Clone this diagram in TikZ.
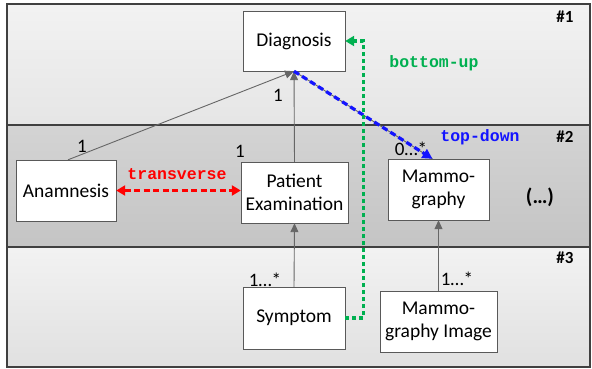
\documentclass[tikz,border=0pt]{standalone}
\usepackage{fontspec}
\setmainfont{Carlito}
\newfontfamily\monofont{Liberation Mono}
\usetikzlibrary{arrows.meta}
\definecolor{ggreen}{RGB}{0,176,80}
\definecolor{bblue}{RGB}{20,20,255}
\definecolor{rred}{RGB}{255,0,0}
\begin{document}
\begin{tikzpicture}[x=1pt,y=-1pt,
  box/.style={draw=black!65, fill=white, align=center, inner sep=0pt,
    font=\fontsize{19.5}{23}\selectfont},
  mult/.style={font=\fontsize{19}{20}\selectfont, inner sep=0pt},
  assoc/.style={draw=black!60, line width=0.9pt, -{Triangle[length=9pt,width=8pt]}},
  plain/.style={draw=black!60, line width=0.9pt},
  lvl/.style={font=\bfseries\fontsize{17}{18}\selectfont, inner sep=0pt},
  dir/.style={font=\monofont\bfseries\fontsize{16.5}{18}\selectfont, inner sep=0pt}]
\useasboundingbox (0,0) rectangle (592,368);
% bands
\shade[top color=black!5, bottom color=black!10] (7,4) rectangle (590,125);
\shade[top color=black!17, bottom color=black!23] (7,125) rectangle (590,247);
\shade[top color=black!5, bottom color=black!12] (7,247) rectangle (590,367);
\draw[black!75, line width=1.1pt] (7,4) rectangle (590,367);
\draw[black!75, line width=1.1pt] (7,125) -- (590,125);
\draw[black!75, line width=1.1pt] (7,247) -- (590,247);
\node[lvl] (l1) at (565,17) {\#1};
\node[lvl] (l2) at (565,137) {\#2};
\node[lvl] (l3) at (565,258) {\#3};
% boxes
\node[box, minimum width=102pt, minimum height=60pt] (diag) at (294,41) {Diagnosis};
\node[box, minimum width=100pt, minimum height=61pt] (ana) at (66,190.5) {Anamnesis};
\node[box, minimum width=107pt, minimum height=61pt] (pe) at (294.5,192.5) {Patient\\Examination};
\node[box, minimum width=101pt, minimum height=61pt] (mam) at (438.5,189.5) {Mammo-\\graphy};
\node[box, minimum width=102pt, minimum height=62pt] (sym) at (294,318) {Symptom};
\node[box, minimum width=117pt, minimum height=61pt] (mimg) at (438.5,321.5) {Mammo-\\graphy Image};
\node[font=\bfseries\fontsize{21}{22}\selectfont, inner sep=0pt] (dots) at (540,197) {(…)};
% associations
\coordinate (anatop) at ([xshift=2pt]ana.north);
\coordinate (mamtop) at ([xshift=-6pt]mam.north);
\draw[assoc] (anatop) -- (diag.south);
\draw[assoc] (pe.north) -- (diag.south);
\draw[assoc] (sym.north) -- (pe.south);
\draw[assoc] (mimg.north) -- (mam.south);
\draw[plain] (diag.south) -- (mamtop);
% multiplicities
\node[mult] (m1) at (82,146) {1};
\node[mult] (m2) at (278,95) {1};
\node[mult] (m3) at (240,151) {1};
\node[mult] (m4) at (411,149) {0…*};
\node[mult] (m5) at (265,280) {1…*};
\node[mult] (m6) at (457,279) {1…*};
% directions
\draw[rred, line width=3.2pt, dash pattern=on 6pt off 3.5pt,
  {Triangle[length=9pt,width=10pt]}-{Triangle[length=9pt,width=10pt]}]
  (ana.east) -- (ana.east -| pe.west);
\node[dir, text=rred] (tr) at (177,174) {transverse};
\draw[bblue, line width=3.2pt, dash pattern=on 6pt off 3.5pt,
  -{Triangle[length=10pt,width=10pt]}] (diag.south) -- (mamtop);
\node[dir, text=bblue] (td) at (480,137) {top-down};
\draw[ggreen, line width=3.2pt, dash pattern=on 4pt off 3pt,
  -{Triangle[length=9pt,width=10pt]}] (sym.east) -- ++(18,0) |- (diag.east);
\node[dir, text=ggreen] (bu) at (434,63) {bottom-up};
\end{tikzpicture}
\end{document}
